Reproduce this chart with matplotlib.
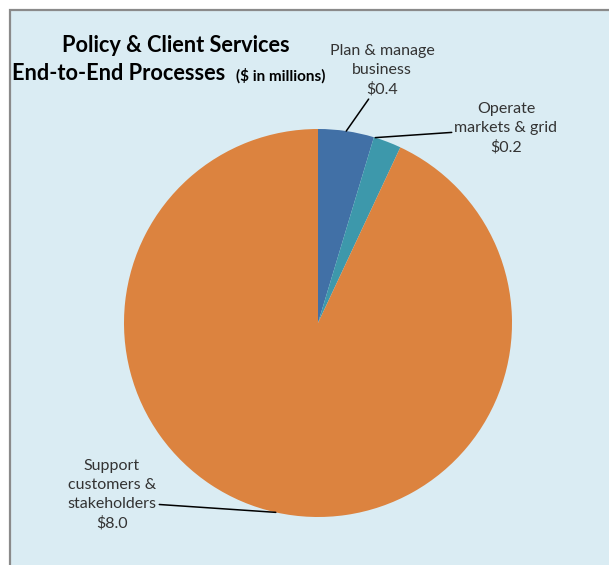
import numpy as np
import matplotlib
matplotlib.use('Agg')
import matplotlib.pyplot as plt
from matplotlib.patches import Rectangle

# Spend by end-to-end process ($ in millions)
processes = ["Plan & manage\nbusiness", "Operate\nmarkets & grid", "Support\ncustomers &\nstakeholders"]
spend = [0.4, 0.2, 8.0]
colors = ['#4170A6', '#3D98AB', '#DC833F']

plt.rcParams['font.family'] = ['Lato', 'DejaVu Sans']

W, H = 609, 565
fig = plt.figure(figsize=(W / 100, H / 100), dpi=100, facecolor='white')

# Light blue panel with grey frame (cropped at right/bottom)
panel = Rectangle((10 / W, -0.05), 1.2, (H - 10) / H + 0.05, transform=fig.transFigure,
                  facecolor='#DAECF3', edgecolor='#8A8A8A', linewidth=1.6, zorder=-5)
fig.patches.append(panel)

# Pie axes: centre ~(318, 323) px, radius ~194 px
cx, cy, r = 318, H - 323, 194
ax = fig.add_axes([(cx - r) / W, (cy - r) / H, 2 * r / W, 2 * r / H], zorder=2)
ax.patch.set_visible(False)
wedges, _ = ax.pie(spend, colors=colors, startangle=90, counterclock=False,
                   wedgeprops=dict(linewidth=0))
ax.set_xlim(-1, 1)
ax.set_ylim(-1, 1)
ax.set_aspect('auto')
ax.axis('off')


def edge_point(w, frac=0.5):
    ang = np.deg2rad(w.theta1 + (w.theta2 - w.theta1) * frac)
    return np.cos(ang), np.sin(ang)


label_fmt = "{}\n${:.1f}"
lab_kw = dict(fontsize=11.5, color='#333333', ha='center', va='center',
              linespacing=1.45, textcoords='figure pixels', annotation_clip=False)
line_kw = dict(arrowstyle='-', color='black', lw=1.1, shrinkA=0, shrinkB=0)

# Plan & manage business
ax.annotate(label_fmt.format(processes[0], spend[0]), xy=edge_point(wedges[0]),
            xytext=(382, H - 70), **lab_kw,
            arrowprops=dict(**line_kw, relpos=(0.24, 0.1),
                            connectionstyle='angle,angleA=0,angleB=55,rad=0'))
# Operate markets & grid
ax.annotate(label_fmt.format(processes[1], spend[1]), xy=edge_point(wedges[1], 0.95),
            xytext=(506, H - 128), **lab_kw,
            arrowprops=dict(**line_kw, relpos=(0.0, 0.42)))
# Support customers & stakeholders
ax.annotate(label_fmt.format(processes[2], spend[2]), xy=edge_point(wedges[2]),
            xytext=(112, H - 495), **lab_kw,
            arrowprops=dict(**line_kw, relpos=(1.0, 0.37)))

# Title
fig.text(176 / W, 1 - 46 / H, "Policy & Client Services", fontsize=15.7,
         fontweight='bold', ha='center', va='center', color='black')
fig.text(12 / W, 1 - 74 / H, "End-to-End Processes", fontsize=15.7,
         fontweight='bold', ha='left', va='center', color='black')
fig.text(236 / W, 1 - 76 / H, "($ in millions)", fontsize=11,
         fontweight='bold', ha='left', va='center', color='black')

fig.savefig('out.png', dpi=100, facecolor='white')
